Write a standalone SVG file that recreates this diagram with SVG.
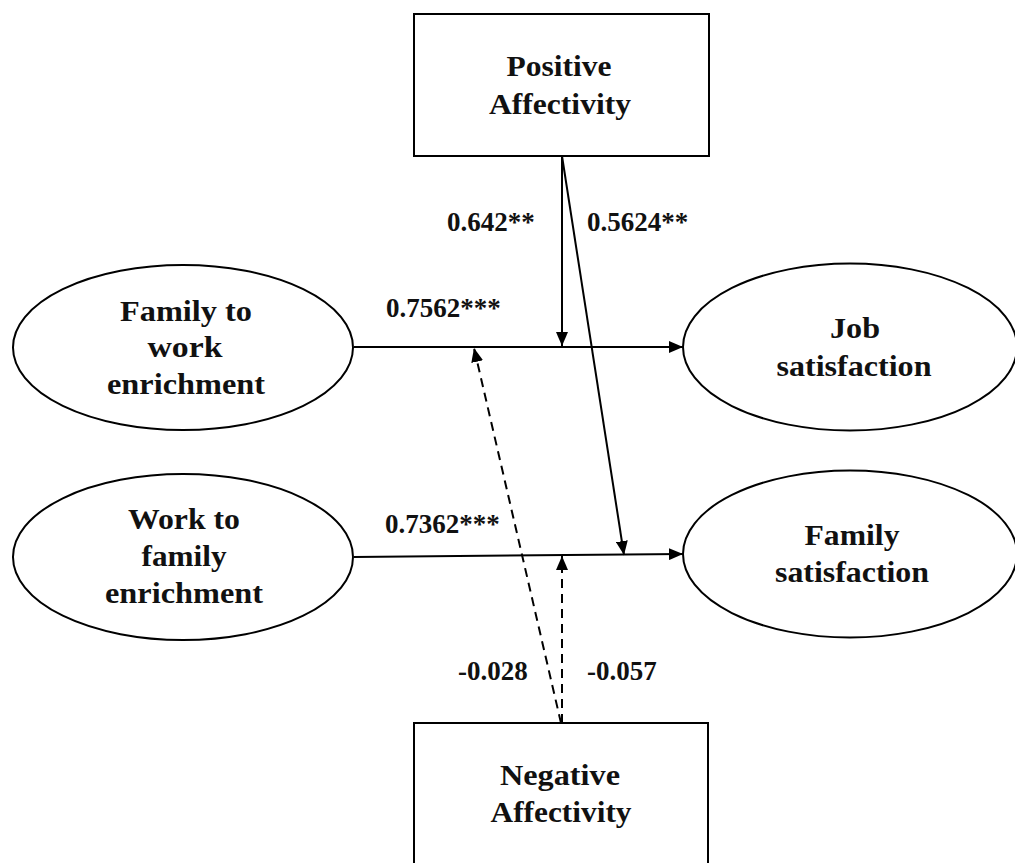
<svg xmlns="http://www.w3.org/2000/svg" width="1015" height="863" viewBox="0 0 1015 863">
<style>
.node{fill:#fff;stroke:#000;stroke-width:2}
.t{font-family:"Liberation Serif","Times New Roman",serif;font-weight:bold;font-size:30px;fill:#111;text-anchor:middle}
.l{font-family:"Liberation Serif","Times New Roman",serif;font-weight:bold;font-size:27px;fill:#111}
.c{fill:none;stroke:#000;stroke-width:2}
.d{stroke-dasharray:9,6}
</style>
<defs>
<marker id="ah" viewBox="0 0 14 12" refX="14" refY="6" markerWidth="14" markerHeight="12" markerUnits="userSpaceOnUse" orient="auto">
<path d="M0,0 L14,6 L0,12 Z" fill="#000"/>
</marker>
</defs>
<rect width="1015" height="863" fill="#fff"/>
<g id="connectors">
<line class="c" x1="354" y1="347" x2="683" y2="347" marker-end="url(#ah)"/>
<line class="c" x1="354" y1="557" x2="683" y2="554" marker-end="url(#ah)"/>
<line class="c" x1="562" y1="156" x2="562" y2="346" marker-end="url(#ah)"/>
<line class="c" x1="562" y1="156" x2="624" y2="555" marker-end="url(#ah)"/>
<line class="c d" x1="561" y1="723" x2="474" y2="348" marker-end="url(#ah)"/>
<line class="c d" x1="562" y1="723" x2="562" y2="556" marker-end="url(#ah)"/>
<text class="l" x="447" y="231">0.642**</text>
<text class="l" x="587" y="231">0.5624**</text>
<text class="l" x="386" y="317">0.7562***</text>
<text class="l" x="385" y="533">0.7362***</text>
<text class="l" x="458" y="680">-0.028</text>
<text class="l" x="587" y="680">-0.057</text>
</g>
<g id="positive">
<rect class="node" x="414" y="14" width="295" height="142"/>
<text class="t" x="559" y="76" textLength="105" lengthAdjust="spacingAndGlyphs">Positive</text>
<text class="t" x="560" y="114" textLength="142" lengthAdjust="spacingAndGlyphs">Affectivity</text>
</g>
<g id="negative">
<rect class="node" x="414" y="723" width="294" height="150"/>
<text class="t" x="560" y="785" textLength="120" lengthAdjust="spacingAndGlyphs">Negative</text>
<text class="t" x="561" y="822" textLength="141" lengthAdjust="spacingAndGlyphs">Affectivity</text>
</g>
<g id="fwe">
<ellipse class="node" cx="183" cy="347.5" rx="170" ry="82.5"/>
<text class="t" x="186" y="321" textLength="132" lengthAdjust="spacingAndGlyphs">Family to</text>
<text class="t" x="185" y="357" textLength="75" lengthAdjust="spacingAndGlyphs">work</text>
<text class="t" x="186" y="394" textLength="158" lengthAdjust="spacingAndGlyphs">enrichment</text>
</g>
<g id="wfe">
<ellipse class="node" cx="183" cy="557" rx="170" ry="83"/>
<text class="t" x="184" y="529" textLength="112" lengthAdjust="spacingAndGlyphs">Work to</text>
<text class="t" x="184" y="566" textLength="85" lengthAdjust="spacingAndGlyphs">family</text>
<text class="t" x="184" y="603" textLength="158" lengthAdjust="spacingAndGlyphs">enrichment</text>
</g>
<g id="job">
<ellipse class="node" cx="850" cy="347" rx="167" ry="83.5"/>
<text class="t" x="855" y="338" textLength="50" lengthAdjust="spacingAndGlyphs">Job</text>
<text class="t" x="854" y="376" textLength="155" lengthAdjust="spacingAndGlyphs">satisfaction</text>
</g>
<g id="family">
<ellipse class="node" cx="850" cy="554" rx="167" ry="83.5"/>
<text class="t" x="852" y="545" textLength="95" lengthAdjust="spacingAndGlyphs">Family</text>
<text class="t" x="852" y="582" textLength="154" lengthAdjust="spacingAndGlyphs">satisfaction</text>
</g>
</svg>
